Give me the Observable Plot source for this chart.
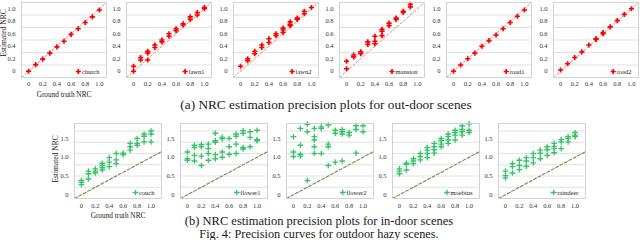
<!DOCTYPE html>
<html><head><meta charset="utf-8">
<script src="https://cdn.jsdelivr.net/npm/d3@7"></script>
<script src="https://cdn.jsdelivr.net/npm/@observablehq/plot@0.6"></script>
<style>
body{margin:0;background:#fff;}
#root{position:relative;width:640px;height:240px;overflow:hidden;font-family:"Liberation Serif","Times New Roman",serif;background:#fff;}
.t{position:absolute;white-space:nowrap;color:#1a1a1a;line-height:1;}
</style></head><body><div id="root"></div><script>
// ---- data ----
const gtNRC = [0,0.1,0.2,0.3,0.4,0.5,0.6,0.7,0.8,0.9,1.0];
const xTicks = [0,0.2,0.4,0.6,0.8,1.0];
const yTicksOut = [0,0.2,0.4,0.6,0.8,1.0];
const yTicksIn = [0,0.5,1.0,1.5];
const gridOut = [0.1,0.3,0.5,0.7,0.9];
const gridIn = [0.2,0.5,0.8,1.1,1.4,1.7];

const outdoorScenes = ["church","lawn1","lawn2","mansion","road1","road2"];
const indoorScenes = ["couch","flower1","flower2","moebius","raindeer"];

const church = [[0.0],[0.105],[0.195],[0.29],[0.39],[0.48],[0.59],[0.68],[0.78],[0.87],[0.98]];
const lawn1 = [[0.08,0.0],[0.22,0.18],[0.32,0.29,0.18],[0.42,0.38],[0.5,0.47],[0.6,0.56],[0.68,0.65],[0.76,0.74],[0.87,0.83],[0.94,0.9],[1.02,1.0]];
const lawn2 = [[0.08],[0.2,0.17],[0.32,0.28],[0.42,0.38],[0.52,0.46],[0.6,0.57],[0.69,0.66,0.62],[0.79,0.75,0.73],[0.85,0.83],[0.96,0.92],[1.02]];
const mansion = [[0.16,0.04],[0.26,0.23],[0.31,0.28],[0.47,0.43],[0.56,0.48,0.44],[0.67,0.64,0.57],[0.77,0.73],[0.85,0.83],[0.96,0.94],[1.07,1.03],[]];
const road1 = [[0.0],[0.1],[0.2],[0.29],[0.4],[0.49],[0.58],[0.68],[0.78],[0.88],[0.98]];
const road2 = [[0.02],[0.12],[0.22],[0.31],[0.42],[0.52,0.51],[0.62,0.6],[0.71],[0.81],[0.91],[1.0]];

const couch = [[0.38,0.33,0.27],[0.63,0.56,0.42],[0.69,0.63,0.58],[0.84,0.78,0.72,0.66],[0.99,0.87,0.75],[1.1,0.93,0.83],[1.11,1.07],[1.37,1.28,1.19],[1.5,1.37,1.32],[1.62,1.56,1.41],[1.7,1.62,1.41]];
const flower1 = [[1.14,0.96,0.92],[1.32,1.26,1.05,0.9],[1.34,1.28,1.03,0.78],[1.35,1.23,1.1,0.92],[1.64,1.44,1.4,1.07,0.96],[1.53,1.49,1.14,1.0],[1.5,1.28,1.08],[1.62,1.56,1.35,1.1],[1.71,1.64,1.26,1.22],[1.68,1.53,1.28],[1.72,1.47,1.44]];
const flower2 = [[1.55,1.14,1.02],[1.77,1.32,1.08,1.03],[1.88,1.68,0.38],[1.77,1.55,1.46,1.28,1.1],[1.81,1.77,1.1],[1.86,1.35,1.28,0.78],[1.72,1.64,0.87],[1.74,1.68,1.62,0.9],[1.66,1.59],[1.84,1.74,1.11],[1.84,1.68]];
const moebius = [[0.69,0.63,0.56],[0.84,0.81,0.66],[0.96,0.9,0.83],[1.1,1.02,0.93],[1.26,1.19,1.1,0.99],[1.37,1.28,1.2,1.11],[1.5,1.44,1.35,1.28],[1.62,1.55,1.46,1.37],[1.72,1.66,1.59,1.46],[1.84,1.74,1.68,1.59],[1.89,1.72,1.66]];
const raindeer = [[0.63,0.51,0.45],[0.83,0.75,0.58],[0.92,0.78,0.67],[0.99,0.9,0.76],[1.1,0.99,0.85],[1.19,1.11,0.96],[1.28,1.2,1.05],[1.37,1.29,1.23,1.12],[1.47,1.41,1.23],[1.55,1.5,1.41],[1.66,1.59,1.55]];

const outdoorData = [church,lawn1,lawn2,mansion,road1,road2];
const indoorData = [couch,flower1,flower2,moebius,raindeer];

// ---- drawing ----
const root = document.getElementById("root");
const serif = "'Liberation Serif','Times New Roman',serif";
const ctx = document.createElement("canvas").getContext("2d");
function textWidth(s, px){ ctx.font = px + "px " + serif; return ctx.measureText(s).width; }
const fmt = d => d === 0 ? "0" : d.toFixed(1);

function panel(name, ys, o, left, top) {
  const pts = [];
  ys.forEach((arr, i) => arr.forEach(y => pts.push({x: gtNRC[i], y})));
  const lw = textWidth(name, o.fs);
  const chart = Plot.plot({
    width: o.ml + o.fw + o.mr,
    height: o.mt + o.fh + o.mb,
    marginLeft: o.ml, marginRight: o.mr, marginTop: o.mt, marginBottom: o.mb,
    style: {fontFamily: serif, fontSize: o.fs + "px", color: "#333", background: "transparent", overflow: "visible"},
    x: {domain: o.xd, ticks: xTicks, tickFormat: fmt, tickSize: 0, tickPadding: o.xpad, label: null},
    y: {domain: o.yd, ticks: o.yt, tickFormat: fmt, tickSize: 0, tickPadding: o.ypad, label: null},
    marks: [
      Plot.ruleY(o.grid, {stroke: "#d9d9d9", strokeWidth: 0.8}),
      Plot.line([[o.xd[0], o.xd[0]], [o.xd[1], o.xd[1]]], {stroke: o.diag, strokeDasharray: o.dash, strokeWidth: o.dw, clip: true}),
      Plot.dot(pts, {x: "x", y: "y", symbol: "plus", stroke: o.color, r: o.r, strokeWidth: o.sw}),
      Plot.frame({stroke: "#c8c8c8", strokeWidth: 0.8}),
      Plot.text([name], {x: () => o.xd[1], y: () => o.yd[0], text: d => d, dx: -o.lr, dy: -o.lb, textAnchor: "end", lineAnchor: "middle", fill: "#222", fontSize: o.fs}),
      Plot.dot([name], {x: () => o.xd[1], y: () => o.yd[0], dx: -(o.lr + lw + 3.5), dy: -o.lb, symbol: "plus", stroke: o.color, r: o.r, strokeWidth: o.sw})
    ]
  });
  chart.style.position = "absolute";
  chart.style.left = (left - o.ml) + "px";
  chart.style.top = (top - o.mt) + "px";
  root.appendChild(chart);
}

const outOpts = {ml: 20, mr: 2, mt: 2, mb: 14, fw: 85, fh: 75, fs: 6.5, xpad: 4, ypad: 6,
  xd: [-0.1, 1.1], yd: [-0.1, 1.1], yt: yTicksOut, grid: gridOut,
  color: "#ff0000", r: 1.8, sw: 1.7, diag: "#f08a8a", dash: "2.5,2", dw: 1, lr: 7, lb: 6};
const inOpts = {ml: 20, mr: 2, mt: 2, mb: 14, fw: 87, fh: 75, fs: 6.5, xpad: 5, ypad: 6,
  xd: [-0.1, 1.15], yd: [-0.1, 1.9], yt: yTicksIn, grid: gridIn,
  color: "#33c566", r: 2, sw: 1.3, diag: "#6b8c45", dash: "3,2", dw: 1.1, lr: 7, lb: 6};

const outLeft = [21, 126, 233, 339, 446, 553];
const inLeft = [74, 180, 286, 392, 498];
outdoorScenes.forEach((n, i) => panel(n, outdoorData[i], outOpts, outLeft[i], 2));
indoorScenes.forEach((n, i) => panel(n, indoorData[i], inOpts, inLeft[i], 123));

function label(txt, x, y, px, rot) {
  const d = document.createElement("div");
  d.className = "t";
  d.textContent = txt;
  d.style.fontSize = px + "px";
  d.style.left = x + "px";
  d.style.top = y + "px";
  d.style.transform = "translate(-50%,-50%)" + (rot ? " rotate(-90deg)" : "");
  root.appendChild(d);
}
label("Estimated NRC", 4, 33, 7.5, true);
label("Ground truth NRC", 64, 95, 7.3);
label("(a) NRC estimation precision plots for out-door scenes", 326, 104.5, 13.3);
label("Estimated NRC", 56, 159, 7.5, true);
label("Ground truth NRC", 118, 216, 7.3);
label("(b) NRC estimation precision plots for in-door scenes", 319, 220.8, 12.5);
label("Fig. 4: Precision curves for outdoor hazy scenes.", 319, 233.8, 12.3);
</script></body></html>
